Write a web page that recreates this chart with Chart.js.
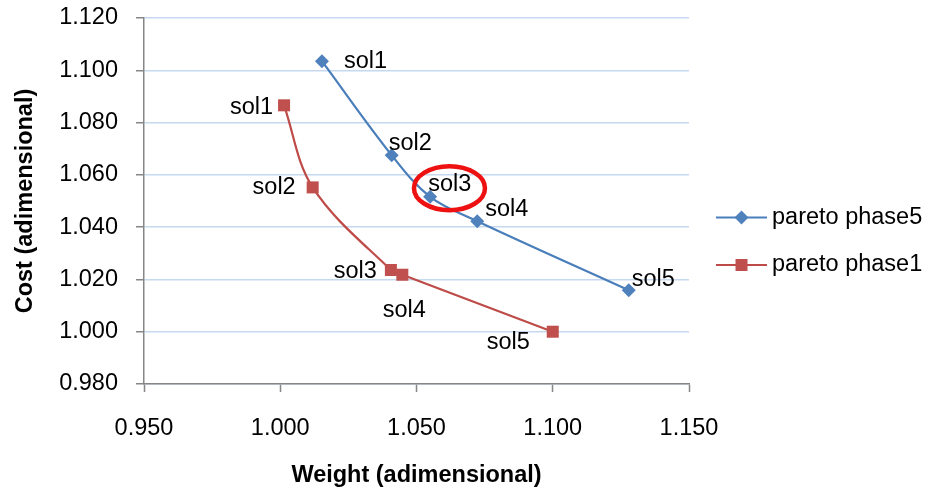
<!DOCTYPE html>
<html>
<head>
<meta charset="utf-8">
<script src="https://cdn.jsdelivr.net/npm/chart.js@4/dist/chart.umd.min.js"></script>
<style>
html,body{margin:0;padding:0;background:#fff;}
#wrap{width:942px;height:490px;position:relative;}
</style>
</head>
<body>
<div id="wrap"><canvas id="c" width="942" height="490"></canvas></div>
<script>
// ---- data ----
const pointLabels = ['sol1','sol2','sol3','sol4','sol5'];
const phase5Weight = [1.0153, 1.0409, 1.0550, 1.0723, 1.1279];
const phase5Cost   = [1.1035, 1.0675, 1.0516, 1.0423, 1.0159];
const phase1Weight = [1.0014, 1.0119, 1.0406, 1.0448, 1.1000];
const phase1Cost   = [1.0866, 1.0552, 1.0236, 1.0218, 1.0000];
const seriesNames  = ['pareto phase5', 'pareto phase1'];
const xTickLabels  = ['0.950','1.000','1.050','1.100','1.150'];
const yTickLabels  = ['0.980','1.000','1.020','1.040','1.060','1.080','1.100','1.120'];
const highlight    = {x: 1.0621, y: 1.0549}; // circled solution

// ---- style ----
const FONT = "'Liberation Sans', Arial, sans-serif";
const FS = 23.5;
const BLUE = '#4a7ebb', BLUE_M = '#4f81bd';
const RED = '#be4b48', RED_M = '#c0504d';
const AXIS = '#868686', GRID = '#c6d9f0';
// label offsets [dx, dy, align]
const phase5LabelOff = [[22,0,'left'],[-3,-12,'left'],[-2,-12,'left'],[8,-12,'left'],[3,-11,'left']];
const phase1LabelOff = [[-11,2,'right'],[-17,0,'right'],[-14,1,'right'],[2,36,'center'],[-23,11,'right']];

function pts(xs, ys){ return xs.map((x,i)=>({x:x, y:ys[i]})); }

const labelPlugin = {
  id:'labels',
  afterDatasetsDraw(chart){
    const ctx = chart.ctx;
    const offs = [phase5LabelOff, phase1LabelOff];
    ctx.save();
    ctx.font = FS + 'px ' + FONT;
    ctx.fillStyle = '#000';
    ctx.textBaseline = 'middle';
    chart.data.datasets.forEach((ds, di)=>{
      const meta = chart.getDatasetMeta(di);
      meta.data.forEach((el, i)=>{
        const o = offs[di][i];
        ctx.textAlign = o[2];
        ctx.fillText(pointLabels[i], el.x + o[0], el.y + o[1]);
      });
    });
    // highlight ellipse
    const xs = chart.scales.x, ys = chart.scales.y;
    const cx = xs.getPixelForValue(highlight.x), cy = ys.getPixelForValue(highlight.y);
    ctx.beginPath();
    ctx.ellipse(cx, cy, 35.5, 22, 0, 0, Math.PI*2);
    ctx.lineWidth = 4.5;
    ctx.strokeStyle = '#ee1111';
    ctx.stroke();
    // legend
    const lx = 716, ly = [217.5, 265];
    chart.data.datasets.forEach((ds, di)=>{
      const y = ly[di];
      ctx.beginPath();
      ctx.moveTo(lx, y); ctx.lineTo(lx+51, y);
      ctx.lineWidth = 2.2; ctx.strokeStyle = ds.borderColor; ctx.stroke();
      ctx.fillStyle = ds.pointBackgroundColor;
      const mx = lx + 25.5;
      if (ds.pointStyle === 'rectRot') {
        ctx.beginPath();
        ctx.moveTo(mx, y-7); ctx.lineTo(mx+7, y); ctx.lineTo(mx, y+7); ctx.lineTo(mx-7, y); ctx.closePath(); ctx.fill();
      } else {
        ctx.fillRect(mx-6, y-6, 12, 12);
      }
      ctx.fillStyle = '#000';
      ctx.textAlign = 'left';
      ctx.fillText(ds.label, lx + 56, y);
    });
    ctx.restore();
  }
};

new Chart(document.getElementById('c'), {
  type:'scatter',
  data:{
    datasets:[
      {label:seriesNames[0], data:pts(phase5Weight, phase5Cost), showLine:true, tension:0.35,
       borderColor:BLUE, borderWidth:2.2, pointStyle:'rectRot', pointRadius:7, pointHoverRadius:7,
       pointBackgroundColor:BLUE_M, pointBorderColor:BLUE_M, pointBorderWidth:0},
      {label:seriesNames[1], data:pts(phase1Weight, phase1Cost), showLine:true, tension:0.35,
       borderColor:RED, borderWidth:2.2, pointStyle:'rect', pointRadius:8.5, pointHoverRadius:8.5,
       pointBackgroundColor:RED_M, pointBorderColor:RED_M, pointBorderWidth:0}
    ]
  },
  options:{
    responsive:false, animation:false, events:[],
    layout:{padding:{top:18, right:253, left:0, bottom:0}},
    plugins:{legend:{display:false}, tooltip:{enabled:false}},
    scales:{
      x:{type:'linear', min:0.95, max:1.15,
         afterBuildTicks(s){ s.ticks = xTickLabels.map(v=>({value:parseFloat(v)})); },
         ticks:{callback:(v,i)=>xTickLabels[i], font:{family:FONT, size:FS}, color:'#000', padding:22, maxRotation:0},
         grid:{drawOnChartArea:false, tickLength:8, tickColor:AXIS, tickWidth:1.5},
         border:{color:AXIS, width:1.5},
         title:{display:true, text:'Weight (adimensional)', font:{family:FONT, size:FS, weight:'bold'}, color:'#000', padding:{top:0,bottom:0}},
         afterFit(s){ s.height = 106; s.paddingLeft = 0; s.paddingRight = 0; }
      },
      y:{type:'linear', min:0.98, max:1.12,
         afterBuildTicks(s){ s.ticks = yTickLabels.map(v=>({value:parseFloat(v)})); },
         ticks:{callback:(v,i)=>yTickLabels[i], font:{family:FONT, size:FS}, color:'#000', padding:18},
         grid:{color:GRID, lineWidth:1.5, tickLength:8, tickColor:AXIS, tickWidth:1.5},
         border:{color:AXIS, width:1.5},
         title:{display:true, text:'Cost (adimensional)', font:{family:FONT, size:FS, weight:'bold'}, color:'#000', padding:{top:11,bottom:0}},
         afterFit(s){ s.width = 144; s.paddingTop = 0; s.paddingBottom = 0; }
      }
    }
  },
  plugins:[labelPlugin]
});
</script>
</body>
</html>
